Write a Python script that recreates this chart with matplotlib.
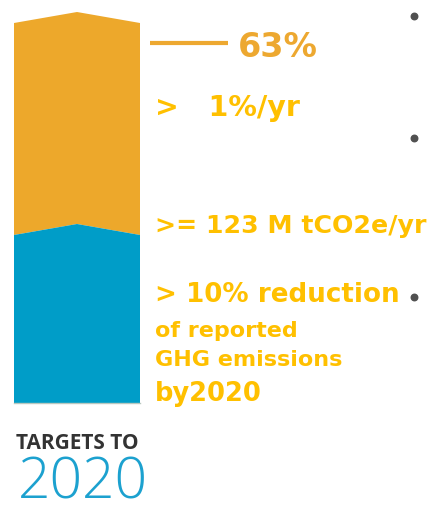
import matplotlib.pyplot as plt
from matplotlib.patches import Polygon

# Data
segment_names = ['GHG reduction', 'Renewable share']
segment_heights = [168, 212]          # bar segment heights (px)
segment_colors = ['#009DC8', '#EDA82B']
chevron = 11

labels = ['63%', '>   1%/yr', '>= 123 M tCO2e/yr', '> 10% reduction',
          'of reported', 'GHG emissions', 'by2020']
label_y = [57, 116, 233, 302, 337, 366, 401]
label_size = [24, 20.5, 18.2, 18.8, 16, 16, 18.5]
label_colors = ['#EDA830'] + ['#FFC000'] * 6

bullet_y = [17, 139, 298]

fig = plt.figure(figsize=(4.32, 5.06), dpi=100)
ax = fig.add_axes([0, 0, 1, 1])
ax.set_xlim(0, 432)
ax.set_ylim(506, 0)
ax.axis('off')

# stacked chevron bar
x0, x1 = 14, 140
xm = (x0 + x1) / 2
base = 404
bottom = base
for i, (h, c) in enumerate(zip(segment_heights, segment_colors)):
    top = bottom - h
    if bottom == base:
        pts = [(x0, bottom), (x0, top), (xm, top - chevron), (x1, top), (x1, bottom)]
    else:
        pts = [(x0, bottom), (x0, top), (xm, top - chevron), (x1, top), (x1, bottom),
               (xm, bottom - chevron)]
    ax.add_patch(Polygon(pts, closed=True, facecolor=c, edgecolor='none', zorder=2 - i))
    bottom = top
ax.plot([x0, x1], [base, base], color='#b8c8c0', lw=1, zorder=3)

# leader line for 63%
ax.plot([150, 228], [44, 44], color='#EDA830', lw=3, solid_capstyle='butt')

for i, (t, y, s, c) in enumerate(zip(labels, label_y, label_size, label_colors)):
    x = 238 if i == 0 else 155
    ax.text(x, y, t, fontsize=s, color=c, fontweight='bold', va='baseline', ha='left',
            family='DejaVu Sans')

ax.scatter([414] * len(bullet_y), bullet_y, s=22, color='#505050', zorder=4)

ax.text(16, 449, 'TARGETS TO', fontsize=15, color='#333333', fontweight='bold',
        va='baseline', ha='left', family='Open Sans')
ax.text(18, 499, '2020', fontsize=41, color='#1CA1CF', fontweight='light',
        va='baseline', ha='left', family='Open Sans')

fig.savefig('out.png', dpi=100)
